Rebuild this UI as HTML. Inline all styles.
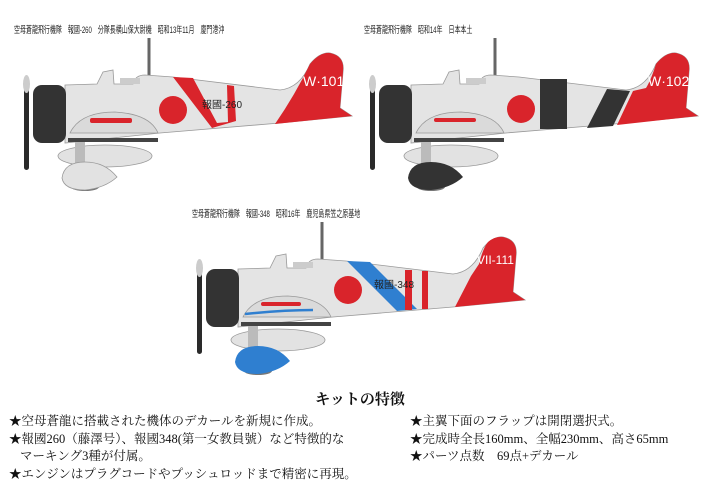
<!DOCTYPE html>
<html><head><meta charset="utf-8"><style>
html,body{margin:0;padding:0;background:#fff;}
body{width:720px;height:485px;overflow:hidden;position:relative;font-family:"Liberation Serif","Noto Serif CJK SC","Noto Sans CJK JP",serif;}
.cap{position:absolute;font-family:"Liberation Sans","Noto Sans CJK JP",sans-serif;font-size:9.5px;color:#222;white-space:pre;transform:scaleX(0.63);transform-origin:0 0;}
.t{position:absolute;font-size:12.5px;color:#111;white-space:pre;}
</style></head><body>
<svg width="720" height="380" style="position:absolute;left:0;top:0" xmlns="http://www.w3.org/2000/svg">
<defs>
<g id="base">
 <line x1="149" y1="38" x2="149" y2="76" stroke="#666" stroke-width="3"/>
 <path d="M65,85 L97,84 L103,72 L113,70 L114,84 L133,84 Q135,75 145,75 L173,77 L280,90 Q300,88 310,64 Q320,52 330,53 Q345,56 343,72 L340,108 L352,116 L280,123 L160,133 L65,143 Z" fill="#e4e4e4" stroke="#999" stroke-width="0.8"/>
 <path d="M120,84 L140,84 L140,78 L120,78 Z" fill="#ccc"/>
 <rect x="33" y="85" width="33" height="58" rx="9" fill="#333"/>
 <rect x="24" y="80" width="5" height="90" rx="2.5" fill="#2a2a2a"/>
 <ellipse cx="26.5" cy="84" rx="3.5" ry="9" fill="#ccc"/>
 <rect x="68" y="138" width="90" height="4" fill="#444"/>
 <ellipse cx="105" cy="156" rx="47" ry="11" fill="#e2e2e2" stroke="#999" stroke-width="0.8"/>
 <rect x="75" y="142" width="10" height="22" fill="#bbb"/>
 <ellipse cx="85" cy="187" rx="14" ry="4" fill="#777"/>
</g>
<g id="wing">
 <path d="M70,133 Q80,112 115,112 Q150,114 158,133 Z" fill="#dadada" stroke="#999" stroke-width="0.8"/>
</g>
<path id="fair" d="M62,178 Q64,162 85,162 Q105,162 117,177 Q105,188 85,190 Q64,190 62,178 Z"/>
</defs>

<g>
 <use href="#base"/>
 <path d="M173,77 L193,78 L217,123 L228,122 L227,85 L234,86 L236,121 L212,128 Z" fill="#d9242b"/>
 <path d="M275,124 Q295,95 310,64 Q320,52 330,53 Q345,56 343,72 L340,108 L352,116 Z" fill="#d9242b"/>
 <circle cx="173" cy="110" r="14" fill="#d9242b"/>
 <use href="#wing"/>
 <rect x="90" y="118" width="42" height="5" rx="2" fill="#d9242b"/>
 <use href="#fair" fill="#e2e2e2" stroke="#999" stroke-width="0.8"/>
 <text x="303" y="86" fill="#fff" font-family="Liberation Sans,sans-serif" font-size="14">W·101</text>
 <text x="202" y="108" fill="#222" font-family="Liberation Sans,Noto Sans CJK JP,sans-serif" font-size="10">報國-260</text>
</g>

<g transform="translate(346,0)">
 <use href="#base"/>
 <rect x="194" y="79" width="27" height="50" fill="#333"/>
 <path d="M261,89 L284,91 L267,126 L241,128 Z" fill="#333"/>
 <path d="M287,91 L300,88 Q305,80 310,64 Q320,52 330,53 Q345,56 343,72 L340,108 L352,116 L271,125 Z" fill="#d9242b"/>
 <circle cx="175" cy="109" r="14" fill="#d9242b"/>
 <use href="#wing"/>
 <rect x="88" y="118" width="42" height="4" rx="2" fill="#d9242b"/>
 <use href="#fair" fill="#333"/>
 <text x="302" y="86" fill="#fff" font-family="Liberation Sans,sans-serif" font-size="14">W·102</text>
</g>

<g transform="translate(173,184)">
 <use href="#base"/>
 <path d="M174,77 L197,78 L244,125 L224,127 Z" fill="#2f7fd0"/>
 <rect x="232" y="86" width="7" height="40" fill="#d9242b"/>
 <rect x="249" y="87" width="6" height="38" fill="#d9242b"/>
 <path d="M282,123 L298,92 L306,80 Q310,64 315,58 Q322,52 330,53 Q345,56 343,72 L340,108 L352,116 Z" fill="#d9242b"/>
 <circle cx="175" cy="106" r="14" fill="#d9242b"/>
 <use href="#wing"/>
 <rect x="88" y="118" width="40" height="4" rx="2" fill="#d9242b"/>
 <path d="M72,130 Q110,126 140,126" stroke="#2f7fd0" stroke-width="2.5" fill="none"/>
 <use href="#fair" fill="#2f7fd0"/>
 <text x="304" y="80" fill="#fff" font-family="Liberation Sans,sans-serif" font-size="12">VII-111</text>
 <text x="201" y="104" fill="#222" font-family="Liberation Sans,Noto Sans CJK JP,sans-serif" font-size="10">報國-348</text>
</g>
</svg>

<div class="cap" style="left:14px;top:22px">空母蒼龍飛行機隊　報國-260　分隊長横山保大尉機　昭和13年11月　廈門港沖</div>
<div class="cap" style="left:364px;top:22px">空母蒼龍飛行機隊　昭和14年　日本本土</div>
<div class="cap" style="left:192px;top:206px">空母蒼龍飛行機隊　報國-348　昭和16年　鹿児島県笠之原基地</div>

<div class="t" style="left:0;width:720px;text-align:center;top:388px;font-size:15px;font-weight:bold">キットの特徴</div>
<div class="t" style="left:9px;top:411px">★空母蒼龍に搭載された機体のデカールを新規に作成。</div>
<div class="t" style="left:9px;top:429px">★報國260（藤澤号）、報國348(第一女教員號）など特徴的な</div>
<div class="t" style="left:20px;top:446px">マーキング3種が付属。</div>
<div class="t" style="left:9px;top:464px">★エンジンはプラグコードやプッシュロッドまで精密に再現。</div>
<div class="t" style="left:410px;top:411px">★主翼下面のフラップは開閉選択式。</div>
<div class="t" style="left:410px;top:429px">★完成時全長160mm、全幅230mm、高さ65mm</div>
<div class="t" style="left:410px;top:446px">★パーツ点数　69点+デカール</div>
</body></html>
